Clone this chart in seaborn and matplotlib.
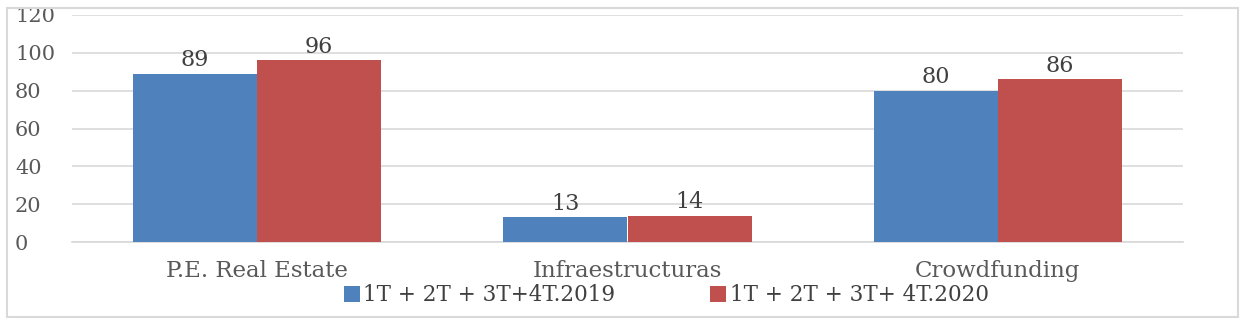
import matplotlib
matplotlib.use("Agg")
import matplotlib.pyplot as plt
import seaborn as sns
import pandas as pd
from matplotlib.patches import Rectangle

categories = ["P.E. Real Estate", "Infraestructuras", "Crowdfunding"]
series_names = ["1T + 2T + 3T+4T.2019", "1T + 2T + 3T+ 4T.2020"]
values_2019 = [89, 13, 80]
values_2020 = [96, 14, 86]
colors = ["#4F81BD", "#C0504D"]

df = pd.DataFrame({
    "cat": categories * 2,
    "serie": [series_names[0]] * 3 + [series_names[1]] * 3,
    "val": values_2019 + values_2020,
})

sns.set_theme(style="white")
plt.rcParams["font.family"] = ["DejaVu Serif"]

fig = plt.figure(figsize=(12.47, 3.24), dpi=100)
ax = fig.add_axes([72/1247, 1-242/324, (1183-72)/1247, (242-15)/324])

sns.barplot(data=df, x="cat", y="val", hue="serie", palette=colors,
            width=0.67, ax=ax, saturation=1, legend=True, zorder=3,
            linewidth=0)

ax.set_ylim(0, 120)
ax.set_xlim(-0.5, 2.5)
ax.set_yticks(range(0, 121, 20))
ax.yaxis.grid(True, color="#D9D9D9", linewidth=1.2, zorder=0)
ax.set_axisbelow(True)
for s in ax.spines.values():
    s.set_visible(False)
ax.spines["bottom"].set_visible(True)
ax.spines["bottom"].set_color("#D9D9D9")
ax.tick_params(axis="y", length=0, labelsize=15, colors="#595959")
ax.tick_params(axis="x", length=0, labelsize=16.5, colors="#595959", pad=13)
ax.set_xlabel("")
ax.set_ylabel("")
for lbl in ax.get_yticklabels():
    lbl.set_horizontalalignment("left")
ax.tick_params(axis="y", pad=41)

for cont in ax.containers:
    ax.bar_label(cont, fontsize=16, color="#404040", padding=2)

leg = ax.legend(loc="upper center", bbox_to_anchor=(0.535, -0.12), ncol=2,
                frameon=False, fontsize=15.5, handlelength=0.75, handleheight=0.8,
                handletextpad=0.15, columnspacing=4.4, labelcolor="#404040",
                borderpad=0.2)

fig.patches.append(Rectangle((7/1247, 1-317/324), (1238-7)/1247, (317-8)/324,
                             transform=fig.transFigure, fill=False,
                             edgecolor="#D9D9D9", linewidth=1.5))

fig.savefig("out.png", dpi=100)
